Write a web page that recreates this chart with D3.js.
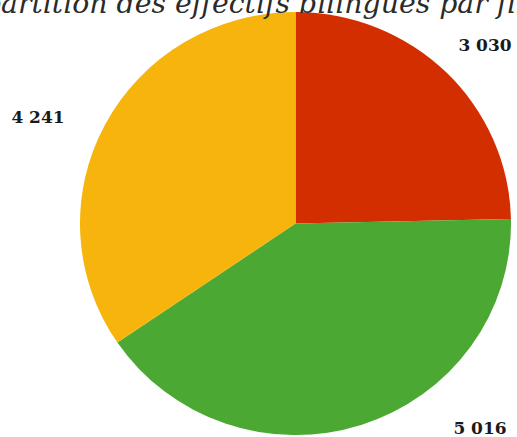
<!DOCTYPE html>
<html>
<head>
<meta charset="utf-8">
<script src="https://cdn.jsdelivr.net/npm/d3@7"></script>
<style>
  html, body { margin: 0; padding: 0; background: #fff; overflow: hidden; }
  svg { display: block; }
</style>
</head>
<body>
<script>
// ---- data ----
const title = "Répartition des effectifs bilingues par filière";
const categories = ["Filière 1", "Filière 2", "Filière 3"];
const values = [3030, 5016, 4241];
const colors = ["#D32E00", "#4BA832", "#F6B40D"];

// ---- layout ----
const W = 517, H = 437;
const cx = 295.5, cy = 223.5, rx = 215.5, ry = 211.5;
// label anchor points (text centre x, baseline y)
const labelPos = [[485, 51], [480, 434], [38, 123]];

const fr = d3.formatLocale({decimal: ",", thousands: " ", grouping: [3], currency: ["", " €"]});
const fmt = fr.format(",d");

const svg = d3.select("body").append("svg").attr("width", W).attr("height", H);

const pie = d3.pie().sort(null).value(d => d)(values);
const arc = d3.arc().innerRadius(0).outerRadius(rx);

const g = svg.append("g").attr("transform", `translate(${cx},${cy}) scale(1,${ry / rx})`);
g.selectAll("path").data(pie).enter().append("path")
  .attr("d", arc)
  .attr("fill", (d, i) => colors[i]);

svg.selectAll("text.lbl").data(pie).enter().append("text")
  .attr("class", "lbl")
  .attr("x", (d, i) => labelPos[i][0])
  .attr("y", (d, i) => labelPos[i][1])
  .attr("text-anchor", "middle")
  .attr("font-family", "DejaVu Serif")
  .attr("font-weight", "bold")
  .attr("font-size", 17)
  .attr("fill", "#1a1a1a")
  .text(d => fmt(d.data));

// title: partially cropped at top/left as in reference
const t = svg.append("text")
  .attr("font-family", "DejaVu Serif")
  .attr("font-style", "italic")
  .attr("font-size", 28)
  .attr("fill", "#2b2b2b")
  .attr("y", 13)
  .text(title);
const node = t.node();
const vis = "artition des effectifs bilingues par fi";
const startIdx = title.indexOf(vis);
const visW = node.getSubStringLength(startIdx, vis.length);
const fs = 28 * 515 / visW;
t.attr("font-size", fs);
const pre = node.getSubStringLength(0, startIdx);
t.attr("x", 1 - pre);
</script>
</body>
</html>
